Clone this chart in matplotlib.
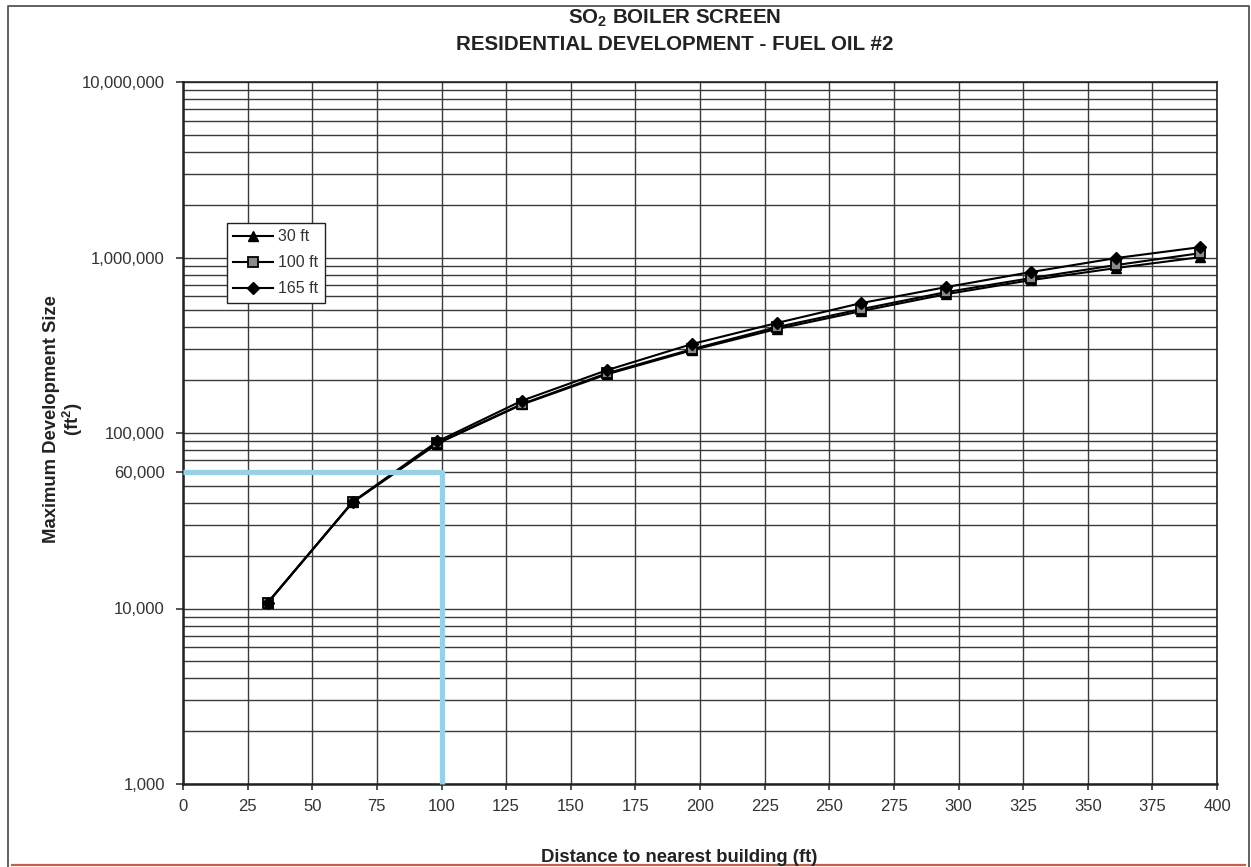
import numpy as np
import matplotlib
matplotlib.use("Agg")
import matplotlib.pyplot as plt
import matplotlib.ticker as ticker
from matplotlib.lines import Line2D

plt.rcParams["font.family"] = ["Liberation Sans", "DejaVu Sans"]
plt.rcParams["mathtext.fontset"] = "custom"
plt.rcParams["mathtext.rm"] = "Liberation Sans:bold"
plt.rcParams["mathtext.bf"] = "Liberation Sans:bold"

# ─── data ────────────────────────────────────────────────────────────────────
distance = [32.8, 65.6, 98.4, 131.2, 164.0, 196.8, 229.6, 262.4, 295.2, 328.0, 360.8, 393.6]
size_30ft = [10800, 40300, 87000, 145500, 216000, 296000, 391000, 495000, 618000, 743000, 870000, 1005000]
size_100ft = [10800, 40300, 87500, 146500, 219000, 300000, 401000, 508000, 635000, 763000, 905000, 1059000]
size_165ft = [10800, 40500, 89500, 153000, 228000, 321000, 423000, 550000, 678000, 826000, 992000, 1146000]

# example lookup (light blue)
ref_x = [0, 100, 100]
ref_y = [60000, 60000, 1000]

x_ticks = list(range(0, 401, 25))
y_ticks = [1000, 10000, 60000, 100000, 1000000, 10000000]
y_labels = ["1,000", "10,000", "60,000", "100,000", "1,000,000", "10,000,000"]

# ─── figure ──────────────────────────────────────────────────────────────────
fig = plt.figure(figsize=(12.51, 8.67), dpi=100)
ax = fig.add_axes([183 / 1251, 1 - 784 / 867, 1034 / 1251, 702 / 867])

ax.set_yscale("log")
ax.set_xlim(0, 400)
ax.set_ylim(1000, 1e7)

ax.plot(distance, size_30ft, color="black", lw=1.5, marker="^", ms=7.5,
        mfc="black", mec="black", label="30 ft", zorder=4)
ax.plot(distance, size_100ft, color="black", lw=1.5, marker="s", ms=7,
        mfc="#8a8a8a", mec="black", mew=1.3, label="100 ft", zorder=5)
ax.plot(distance, size_165ft, color="black", lw=1.5, marker="D", ms=6,
        mfc="black", mec="black", label="165 ft", zorder=6)

ax.plot(ref_x, ref_y, color="#96d2e4", lw=3.8, solid_capstyle="butt",
        zorder=7, clip_on=False)

ax.set_xticks(x_ticks)
ax.set_xticklabels([str(v) for v in x_ticks])
ax.yaxis.set_major_locator(ticker.FixedLocator(y_ticks))
ax.yaxis.set_major_formatter(ticker.FixedFormatter(y_labels))
ax.yaxis.set_minor_locator(ticker.LogLocator(base=10, subs=np.arange(2, 10)))
ax.yaxis.set_minor_formatter(ticker.NullFormatter())

ax.tick_params(axis="both", which="major", labelsize=12, colors="#333333",
               length=4, width=1.2, pad=7)
ax.tick_params(axis="y", which="major", length=5, pad=8)
ax.tick_params(axis="y", which="minor", length=0)
for lbl in ax.get_xticklabels() + ax.get_yticklabels():
    lbl.set_color("#333333")

ax.grid(True, which="both", axis="both", color="#3a3a3a", lw=1.0)
ax.set_axisbelow(True)
for side, sp in ax.spines.items():
    sp.set_color("#222222")
    sp.set_linewidth(1.2 if side in ("top", "right") else 1.8)

leg = ax.legend(loc="upper left", bbox_to_anchor=(0.0426, 0.799),
                borderaxespad=0, fontsize=11.5, fancybox=False, framealpha=1,
                edgecolor="#222222", handlelength=2.5, handletextpad=0.3,
                labelspacing=0.68, borderpad=0.4)
leg.get_frame().set_linewidth(1.0)
for t in leg.get_texts():
    t.set_color("#333333")

# ─── texts ───────────────────────────────────────────────────────────────────
fig.text(0.539, 1 - 18 / 867, "SO$_2$ BOILER SCREEN", ha="center", va="center",
         fontsize=14.8, fontweight="bold", color="#222222")
fig.text(0.539, 1 - 45 / 867, "RESIDENTIAL DEVELOPMENT - FUEL OIL #2",
         ha="center", va="center", fontsize=14.8, fontweight="bold",
         color="#222222")
fig.text(64 / 1251, 1 - 419 / 867, "Maximum Development Size\n(ft$^2$)",
         rotation=90, ha="center", va="center", multialignment="center",
         fontsize=13.3, fontweight="bold", linespacing=1.0, color="#222222")
fig.text(679 / 1251, 1 - 857 / 867, "Distance to nearest building (ft)",
         ha="center", va="center", fontsize=13.3, fontweight="bold",
         color="#222222")

# page frame and red rule at the bottom
fx0, fx1, fy1 = 8 / 1251, 1249 / 1251, 1 - 6 / 867
fig.add_artist(Line2D([fx0, fx0, fx1, fx1], [0, fy1, fy1, 0],
                      transform=fig.transFigure, color="#555555", lw=1.3))
fig.add_artist(Line2D([12 / 1251, 1245 / 1251], [2 / 867, 2 / 867],
                      transform=fig.transFigure, color="#c2604a", lw=1.6))

fig.savefig("out.png", dpi=100)
